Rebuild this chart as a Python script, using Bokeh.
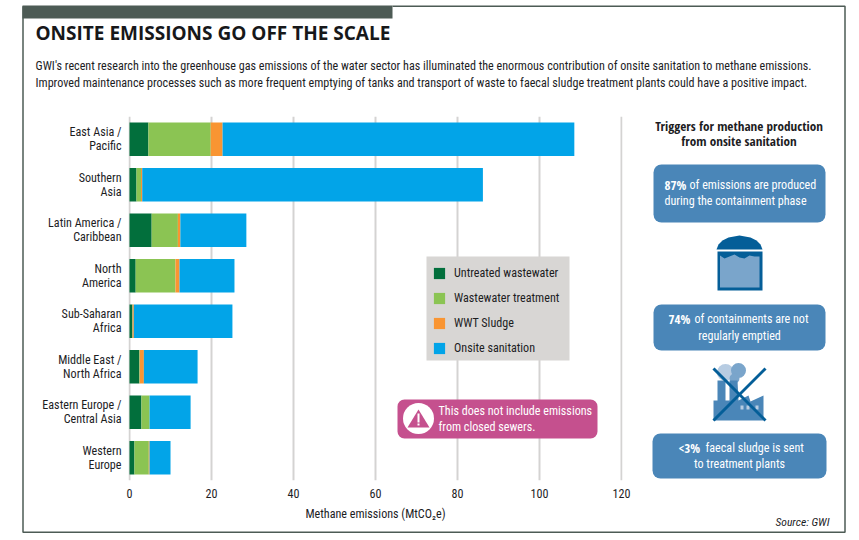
from bokeh.plotting import figure
from bokeh.layouts import column
from bokeh.models import ColumnDataSource, Legend, LegendItem, FactorRange, Range1d, BoxAnnotation
from bokeh.core.properties import value
from bokeh.embed import file_html
from bokeh.resources import INLINE

regions = ["East Asia /\nPacific", "Southern\nAsia", "Latin America /\nCaribbean", "North\nAmerica",
           "Sub-Saharan\nAfrica", "Middle East /\nNorth Africa", "Eastern Europe /\nCentral Asia", "Western\nEurope"]
untreated = [4.6, 1.7, 5.4, 1.5, 0.7, 2.4, 2.9, 1.2]
treatment = [15.2, 1.1, 6.4, 9.7, 0.05, 0.1, 2.0, 3.5]
sludge = [2.9, 0.3, 0.6, 1.0, 0.3, 1.0, 0.0, 0.2]
onsite = [85.8, 83.1, 16.1, 13.4, 24.05, 13.1, 10.0, 5.1]
series_names = ["Untreated wastewater", "Wastewater treatment", "WWT Sludge", "Onsite sanitation"]
series_colors = ["#026f3c", "#8bc453", "#f99532", "#02a4e8"]
x_ticks = [0, 20, 40, 60, 80, 100, 120]
title = "ONSITE EMISSIONS GO OFF THE SCALE"
intro = ["GWI's recent research into the greenhouse gas emissions of the water sector has illuminated the enormous contribution of onsite sanitation to methane emissions.",
         "Improved maintenance processes such as more frequent emptying of tanks and transport of waste to faecal sludge treatment plants could have a positive impact."]

W, H = 859, 540
NARROW = "Roboto Condensed"
BOLD = "Open Sans Condensed"
INK = "#1d1d1f"
SZ = "12.1px"

p = figure(width=W, height=H, output_backend="svg", toolbar_location=None,
           y_range=FactorRange(factors=regions[::-1]), x_range=Range1d(-0.25, 120.25),
           min_border_left=128, min_border_right=W-622, min_border_top=116, min_border_bottom=H-480,
           background_fill_color="white", border_fill_color="white", outline_line_color=None)
p.frame_align = False

src = ColumnDataSource(dict(region=regions, a=untreated, b=treatment, c=sludge, d=onsite))
rs = p.hbar_stack(["a", "b", "c", "d"], y="region", height=0.736, color=series_colors, source=src, line_color=None)

for ax in (p.xaxis, p.yaxis):
    ax.axis_line_color = None
    ax.major_tick_line_color = None
    ax.minor_tick_line_color = None
    ax.major_tick_out = 0
    ax.major_tick_in = 0
    ax.major_label_text_font = NARROW
    ax.major_label_text_font_size = SZ
    ax.major_label_text_color = INK
    ax.major_label_text_line_height = 1.0
    ax.major_label_standoff = 7
p.xaxis.major_label_standoff = 8
p.xaxis.ticker = x_ticks
p.xaxis.axis_label = "Methane emissions (MtCO\u2082e)"
p.xaxis.axis_label_text_font = NARROW
p.xaxis.axis_label_text_font_size = SZ
p.xaxis.axis_label_text_font_style = "normal"
p.xaxis.axis_label_text_color = INK
p.xaxis.axis_label_standoff = 6
p.ygrid.grid_line_color = None
p.xgrid.grid_line_color = "#d4d3d2"
p.xgrid.grid_line_width = 2

p.add_layout(BoxAnnotation(left=298, right=441, bottom=120, top=224, left_units="screen", right_units="screen",
                           bottom_units="screen", top_units="screen", fill_color="#d8d6d4", fill_alpha=1,
                           line_color=None, level="annotation"))
legend = Legend(items=[LegendItem(label=n, renderers=[r]) for n, r in zip(series_names, rs)],
                location=(304, 125), orientation="vertical", padding=7, spacing=11, margin=0,
                glyph_width=14, glyph_height=14, label_height=14, label_standoff=8,
                label_text_font=NARROW, label_text_font_size=SZ, label_text_color=INK,
                background_fill_alpha=0, border_line_color=None)
p.add_layout(legend, "center")

# overlay page: its data units are the page's pixels
o = figure(width=W, height=H, output_backend="svg", toolbar_location=None, x_range=Range1d(0, W), y_range=Range1d(H, 0),
           min_border=0, outline_line_color=None, background_fill_alpha=0, border_fill_alpha=0)
o.frame_align = False
o.axis.visible = False
o.grid.visible = False
o.styles = {"position": "absolute", "left": "0px", "top": "0px"}

def text(x, y, s, size=SZ, color=INK, font=NARROW, style="normal", align="left"):
    o.text(x=[x], y=[y], text=[s], text_font=value(font), text_font_size=size, text_font_style=style,
           text_color=color, text_align=align, text_baseline="middle")

def box(l, t, r, b, color, radius=0):
    o.quad(left=[l], right=[r], top=[t], bottom=[b], fill_color=color, line_color=None, border_radius=radius)

def poly(xs, ys, color):
    o.patch(x=xs, y=ys, fill_color=color, line_color=None)

def disc(x, y, r, color):
    o.circle(x=[x], y=[y], radius=r, fill_color=color, line_color=None)

BORDER = "#4d5b55"
o.line(x=[392, 844.5, 844.5, 22.5, 22.5], y=[5.7, 5.7, 531.7, 531.7, 5.7], line_color=BORDER, line_width=1.5)
box(22, 5, 392, 18, BORDER)
text(35, 32.5, title, size="19px", font="Open Sans", style="bold", color="#17181a")
text(35, 65, intro[0], size="12.1px")
text(35, 82, intro[1], size="12.1px")

# note
PINK = "#c5508e"
box(397, 399, 597, 438, PINK, radius=7)
disc(418, 418, 15.5, "white")
poly([418, 429, 407], [409, 427, 427], PINK)
box(417, 413, 419, 422, "white")
box(417, 423, 419, 425, "white")
text(438, 410, "This does not include emissions", color="white")
text(438, 426, "from closed sewers.", color="white")

# right panel
BLUE = "#4a86b8"
text(738.5, 125, "Triggers for methane production", font=BOLD, size="13.2px", style="bold", align="center")
text(738.5, 140, "from onsite sanitation", font=BOLD, size="13.2px", style="bold", align="center")
box(653, 164, 825, 222, BLUE, radius=8)
text(664, 184.5, "87%", font=BOLD, size="13px", style="bold", color="white")
text(689, 184.5, "of emissions are produced", color="white")
text(664, 200.5, "during the containment phase", color="white")
box(653, 304, 825, 350, BLUE, radius=8)
text(668, 318.5, "74%", font=BOLD, size="13px", style="bold", color="white")
text(694, 318.5, "of containments are not", color="white")
text(739, 335, "regularly emptied", color="white", align="center")
box(652, 433, 826, 478, BLUE, radius=8)
text(678, 447.5, "<3%", font=BOLD, size="13px", style="bold", color="white")
text(705, 447.5, "faecal sludge is sent", color="white")
text(739, 463.5, "to treatment plants", color="white", align="center")

# tank icon
DARK = "#045e98"
poly([716, 718, 722, 728, 739, 750, 756, 760, 762], [249, 244, 240, 237, 235, 237, 240, 244, 249], DARK)
box(717, 251, 762, 290, DARK)
poly([719.5, 724, 729, 734, 739, 744, 749, 754, 759, 759, 719.5],
     [255, 258, 256, 254, 257, 258, 255, 256, 256, 287, 287], "#7aa5cb")

# factory icon
disc(725, 372, 8.5, "#b7cce2")
disc(738, 370, 7.5, "#7aa5cb")
disc(734, 378, 5, "#7aa5cb")
poly([713, 713, 717, 717, 725, 725, 729, 729, 737, 738, 748, 750, 763, 763],
     [420, 400, 400, 380, 380, 400, 400, 380, 380, 400, 395, 401, 395, 420], BLUE)
box(740, 405, 743, 409, "#b7cce2")
box(746, 405, 749, 409, "#b7cce2")
box(755, 405, 758, 409, "#b7cce2")
o.line(x=[713, 765], y=[368, 420], line_color=DARK, line_width=3)
o.line(x=[765, 713], y=[368, 420], line_color=DARK, line_width=3)

text(829, 521, "Source: GWI", size="11.6px", style="italic", align="right")

open("out.html", "w").write(file_html(column(p, o), INLINE))
